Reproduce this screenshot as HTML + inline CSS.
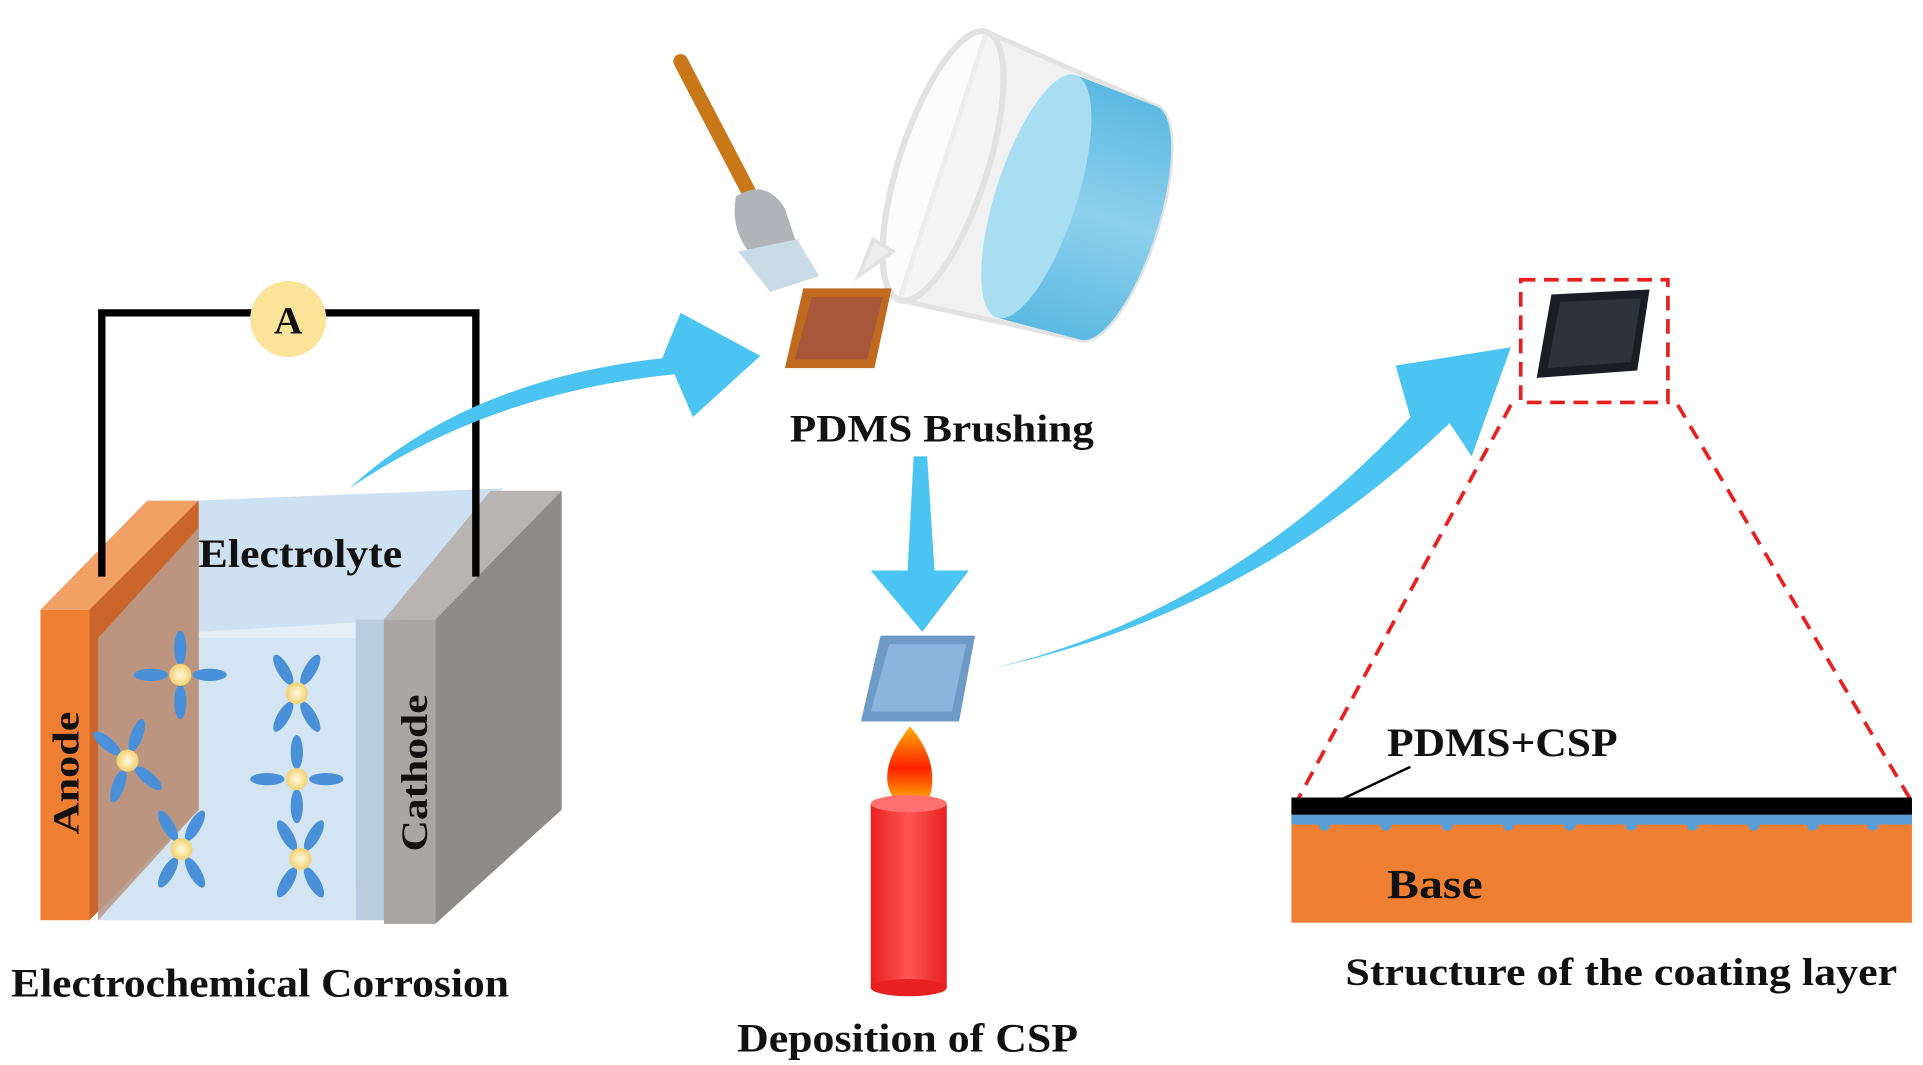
<!DOCTYPE html>
<html><head><meta charset="utf-8"><style>
html,body{margin:0;padding:0;background:#fff;}
svg{display:block;}
text{font-family:"Liberation Serif",serif;font-weight:bold;fill:#111;}
</style></head><body>
<svg width="1923" height="1065" viewBox="0 0 1568 868" preserveAspectRatio="none" xmlns="http://www.w3.org/2000/svg">
<defs>
<linearGradient id="cand" x1="0" x2="1"><stop offset="0" stop-color="#e82020"/><stop offset="0.5" stop-color="#ff5555"/><stop offset="1" stop-color="#e82020"/></linearGradient>
<linearGradient id="flame" x1="0" y1="0" x2="0" y2="1"><stop offset="0" stop-color="#ffb000"/><stop offset="0.5" stop-color="#ff2000"/><stop offset="1" stop-color="#ffd000"/></linearGradient>
<linearGradient id="water" x1="0" y1="0" x2="1" y2="0"><stop offset="0" stop-color="#5ab8e0"/><stop offset="0.5" stop-color="#8fd0ec"/><stop offset="1" stop-color="#5ab8e0"/></linearGradient>
<radialGradient id="dot"><stop offset="0" stop-color="#fffbe0"/><stop offset="1" stop-color="#f2d070"/></radialGradient>
</defs>
<polygon points="80,520 160,408 410,398 330,505" fill="#c6dcef"/>
<polygon points="160,408 410,398 410,700 330,750 160,620" fill="#d3e4f3" opacity="0.6"/>
<rect x="80" y="520" width="210" height="230" fill="#d3e4f3"/>
<polygon points="290,505 330,505 330,750 290,750" fill="#b9cde0"/>
<polygon points="33,497 120,408 162,408 75,497" fill="#f1a066"/>
<rect x="33" y="497" width="40" height="253" fill="#ee7f33"/>
<polygon points="73,497 162,408 162,660 73,750" fill="#c9652a"/>
<polygon points="80,520 162,430 162,660 80,750" fill="#b99a8a" opacity="0.9"/>
<polygon points="313,505 400,400 458,400 355,505" fill="#b8b4b2"/>
<rect x="313" y="505" width="42" height="248" fill="#aaa6a4"/>
<polygon points="355,505 458,400 458,660 355,753" fill="#8e8a88"/>
<text transform="translate(64,630) rotate(-90)" text-anchor="middle" font-size="30" textLength="100" lengthAdjust="spacingAndGlyphs">Anode</text>
<text transform="translate(348,630) rotate(-90)" text-anchor="middle" font-size="30" textLength="128" lengthAdjust="spacingAndGlyphs">Cathode</text>
<text x="245" y="462" text-anchor="middle" font-size="33" textLength="166" lengthAdjust="spacingAndGlyphs">Electrolyte</text>
<polyline points="83,470 83,255 388,255 388,470" fill="none" stroke="#000" stroke-width="6"/>
<circle cx="235" cy="260" r="31" fill="#fbe39a"/>
<text x="235" y="272" text-anchor="middle" font-size="32" font-weight="normal">A</text>
<g fill="#4a90d8">
<g transform="translate(147,550)"><ellipse rx="5" ry="14" cy="-22"/><ellipse rx="5" ry="14" cy="22"/><ellipse rx="14" ry="5" cx="-24"/><ellipse rx="14" ry="5" cx="24"/><circle r="9" fill="url(#dot)"/></g>
<g transform="translate(242,565)"><ellipse rx="5" ry="14" transform="rotate(30) translate(0,-22)"/><ellipse rx="5" ry="14" transform="rotate(-30) translate(0,-22)"/><ellipse rx="5" ry="14" transform="rotate(30) translate(0,22)"/><ellipse rx="5" ry="14" transform="rotate(-30) translate(0,22)"/><circle r="9" fill="url(#dot)"/></g>
<g transform="translate(104,620)"><ellipse rx="5" ry="14" transform="rotate(20) translate(0,-22)"/><ellipse rx="5" ry="14" transform="rotate(20) translate(0,22)"/><ellipse rx="14" ry="5" transform="rotate(40) translate(-22,0)"/><ellipse rx="14" ry="5" transform="rotate(40) translate(22,0)"/><circle r="9" fill="url(#dot)"/></g>
<g transform="translate(242,635)"><ellipse rx="5" ry="14" cy="-22"/><ellipse rx="5" ry="14" cy="22"/><ellipse rx="14" ry="5" cx="-24"/><ellipse rx="14" ry="5" cx="24"/><circle r="9" fill="url(#dot)"/></g>
<g transform="translate(148,692)"><ellipse rx="5" ry="14" transform="rotate(30) translate(0,-22)"/><ellipse rx="5" ry="14" transform="rotate(-30) translate(0,-22)"/><ellipse rx="5" ry="14" transform="rotate(30) translate(0,22)"/><ellipse rx="5" ry="14" transform="rotate(-30) translate(0,22)"/><circle r="9" fill="url(#dot)"/></g>
<g transform="translate(245,700)"><ellipse rx="5" ry="14" transform="rotate(30) translate(0,-22)"/><ellipse rx="5" ry="14" transform="rotate(-30) translate(0,-22)"/><ellipse rx="5" ry="14" transform="rotate(30) translate(0,22)"/><ellipse rx="5" ry="14" transform="rotate(-30) translate(0,22)"/><circle r="9" fill="url(#dot)"/></g>
</g>
<text x="212" y="812" text-anchor="middle" font-size="33" textLength="406" lengthAdjust="spacingAndGlyphs">Electrochemical Corrosion</text>
<path d="M285,398 Q380,310 540,292 L555,255 L620,290 L565,340 L550,305 Q400,320 285,398 Z" fill="#4cc4f2"/>
<line x1="555" y1="50" x2="615" y2="165" stroke="#c87818" stroke-width="12" stroke-linecap="round"/>
<path d="M600,160 Q625,145 640,170 L650,200 L615,210 Q595,190 600,160 Z" fill="#b0b4b8"/>
<polygon points="602,205 650,195 668,225 628,238" fill="#c9dbe4"/>
<!-- beaker (tilted cup) -->
<g transform="translate(845,160) rotate(-72)">
<path d="M-115,-80 L-100,70 A100,32 0 0 0 100,70 L115,-80 Z" fill="#f1f1f1" stroke="#e2e2e2" stroke-width="4"/>
<path d="M-104,0 L-100,70 A100,32 0 0 0 100,70 L104,0 Z" fill="url(#water)"/>
<ellipse cx="0" cy="0" rx="104" ry="33" fill="#a9def2"/>
<ellipse cx="0" cy="-80" rx="115" ry="36" fill="#fafafa" fill-opacity="0.5" stroke="#e2e2e2" stroke-width="5"/>
</g>
<path d="M712,195 L700,225 L728,205 Z" fill="#eee" stroke="#e2e2e2" stroke-width="3"/>
<polygon points="655,235 727,235 713,300 640,300" fill="#c06a20"/>
<polygon points="662,242 720,242 707,293 648,293" fill="#a8583a"/>
<text x="768" y="360" text-anchor="middle" font-size="32" textLength="248" lengthAdjust="spacingAndGlyphs">PDMS Brushing</text>
<polygon points="745,372 756,372 762,465 790,465 752,515 710,465 740,465" fill="#4cc4f2"/>
<polygon points="718,518 795,518 782,588 702,588" fill="#6e9ac8"/>
<polygon points="725,525 788,525 776,580 710,580" fill="#8db4dc"/>
<path d="M742,592 Q720,620 724,640 Q730,660 742,660 Q758,660 760,640 Q762,615 742,592 Z" fill="url(#flame)"/>
<rect x="710" y="655" width="62" height="150" fill="url(#cand)"/>
<ellipse cx="741" cy="655" rx="31" ry="7" fill="#ff7070"/>
<ellipse cx="741" cy="805" rx="31" ry="7" fill="#e82020"/>
<text x="740" y="857" text-anchor="middle" font-size="33" textLength="278" lengthAdjust="spacingAndGlyphs">Deposition of CSP</text>
<path d="M808,545 Q1000,500 1150,340 L1138,298 L1232,283 L1200,372 L1182,345 Q1020,500 808,545 Z" fill="#4cc4f2"/>
<rect x="1240" y="228" width="120" height="100" fill="none" stroke="#e82020" stroke-width="3" stroke-dasharray="12,7"/>
<polygon points="1265,240 1345,236 1335,302 1253,308" fill="#1a1e24"/>
<polygon points="1272,246 1338,243 1330,295 1262,300" fill="#2c333c"/>
<line x1="1232" y1="330" x2="1058" y2="652" stroke="#e82020" stroke-width="3" stroke-dasharray="12,8"/>
<line x1="1368" y1="330" x2="1558" y2="652" stroke="#e82020" stroke-width="3" stroke-dasharray="12,8"/>
<rect x="1053" y="665" width="506" height="87" fill="#ee7f33"/>
<rect x="1053" y="664" width="506" height="8" fill="#5a9ed8"/>
<g fill="#5a9ed8">
<circle cx="1080" cy="672" r="5"/><circle cx="1130" cy="672" r="5"/><circle cx="1180" cy="672" r="5"/><circle cx="1230" cy="672" r="5"/><circle cx="1280" cy="672" r="5"/><circle cx="1330" cy="672" r="5"/><circle cx="1380" cy="672" r="5"/><circle cx="1430" cy="672" r="5"/><circle cx="1478" cy="672" r="5"/><circle cx="1527" cy="672" r="5"/>
</g>
<rect x="1053" y="650" width="506" height="14" fill="#000"/>
<line x1="1095" y1="651" x2="1150" y2="625" stroke="#000" stroke-width="2"/>
<text x="1225" y="616" text-anchor="middle" font-size="33" textLength="188" lengthAdjust="spacingAndGlyphs">PDMS+CSP</text>
<text x="1170" y="732" text-anchor="middle" font-size="34" textLength="78" lengthAdjust="spacingAndGlyphs">Base</text>
<text x="1322" y="803" text-anchor="middle" font-size="32" textLength="450" lengthAdjust="spacingAndGlyphs">Structure of the coating layer</text>
</svg>
</body></html>
